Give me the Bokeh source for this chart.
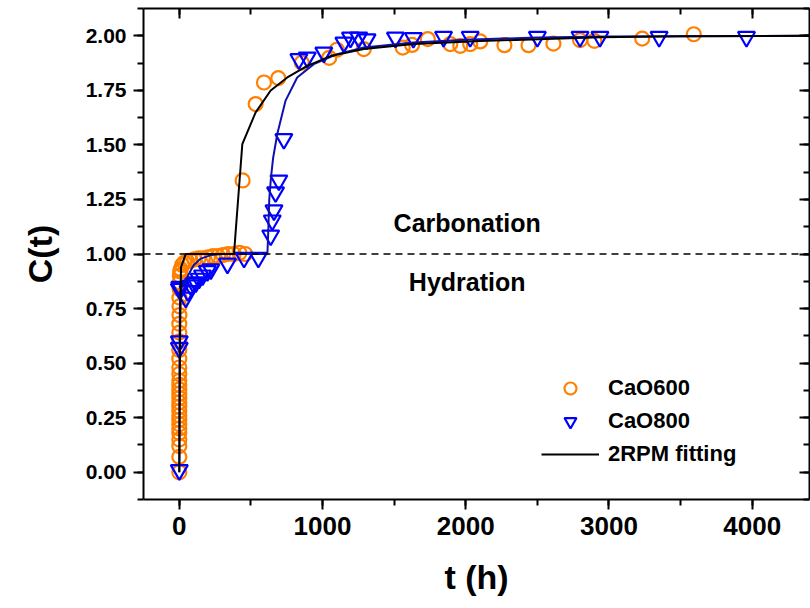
from bokeh.plotting import figure
from bokeh.models import (LinearAxis, Range1d, Span, Label, Legend, LegendItem,
                          NumeralTickFormatter, SingleIntervalTicker,
                          CustomJSTickFormatter)
from bokeh.embed import file_html
from bokeh.resources import INLINE

# ---------------- data ----------------
# CaO600 measured points (orange circles)
t600 = [0, 0, 0, 0, 0, 0, 0, 0, 0, 0, 0, 0, 0, 0, 0, 0, 0, 0, 0, 0, 0, 0, 0, 0,
        1, 1, 1, 2, 3, 4, 6, 10,
        20, 35, 55, 80, 105, 135, 165, 200, 235, 270, 305, 340, 380, 420, 460,
        442, 533, 591, 691, 855, 1047, 1100, 1288, 1560, 1625, 1735,
        1892, 1962, 2031, 2101, 2270, 2438, 2612, 2798, 2898, 3232, 3592]
c600 = [0.00, 0.07, 0.12, 0.15, 0.18, 0.20, 0.22, 0.24, 0.26, 0.28, 0.30, 0.32,
        0.34, 0.36, 0.38, 0.40, 0.42, 0.45, 0.48, 0.52, 0.56, 0.60, 0.64, 0.68,
        0.72, 0.76, 0.80, 0.84, 0.87, 0.90, 0.92, 0.93,
        0.95, 0.96, 0.965, 0.97, 0.975, 0.98, 0.98, 0.985, 0.99, 0.99, 0.995,
        1.0, 1.0, 1.005, 1.0,
        1.337, 1.687, 1.786, 1.806, 1.877, 1.899, 1.936, 1.939, 1.946, 1.958, 1.985,
        1.962, 1.954, 1.962, 1.974, 1.957, 1.957, 1.964, 1.980, 1.977, 1.987, 2.007]

# CaO800 measured points (blue triangles)
t800 = [0, 0, 0, 0, 3, 8, 45, 60, 80, 100, 115, 138, 162, 196, 220, 336, 452, 552,
        638, 649, 661, 672, 695, 730,
        835, 893, 1009, 1149, 1195, 1253, 1311, 1509, 1634, 1845, 2031, 2500,
        2798, 2937, 3350, 3960]
c800 = [0.01, 0.57, 0.60, 0.84, 0.85, 0.84, 0.80, 0.83, 0.856, 0.865, 0.87, 0.887,
        0.902, 0.922, 0.93, 0.956, 0.983, 0.983,
        1.085, 1.154, 1.20, 1.283, 1.337, 1.527,
        1.893, 1.90, 1.923, 1.969, 1.992, 1.992, 1.984, 1.992, 1.99, 1.995, 1.995,
        1.995, 1.995, 1.995, 1.995, 1.995]

# 2RPM fitting curves
t_fit600 = [0, 5, 12, 45, 382, 394, 410, 440, 533, 638, 754, 893, 1056, 1288, 1636,
            2101, 2937, 3500, 4400]
c_fit600 = [0, 0.6, 0.94, 1.0, 1.0, 1.107, 1.245, 1.504, 1.649, 1.749, 1.809, 1.862,
            1.907, 1.939, 1.962, 1.976, 1.993, 1.998, 2.0]

t_fit800 = [0, 2, 5, 15, 30, 60, 100, 150, 220, 300, 615, 618, 622, 628, 640, 655,
            684, 742, 823, 939, 1102, 1288, 1636, 2000, 2500, 3000, 4400]
c_fit800 = [0, 0.6, 0.82, 0.845, 0.86, 0.9, 0.948, 0.979, 0.995, 1.0, 1.0, 1.05, 1.12,
            1.25, 1.35, 1.44, 1.55, 1.703, 1.809, 1.87, 1.916, 1.946, 1.969, 1.982,
            1.992, 1.997, 2.0]

boundary = 1.0
labels_names = ["CaO600", "CaO800", "2RPM fitting"]

FONT = "Liberation Sans"
ORANGE = "#FF8000"
BLUE = "#0000FF"
DBLUE = "#1010B0"

p = figure(width=810, height=608, x_range=Range1d(-250, 4400),
           y_range=Range1d(-0.125, 2.125), output_backend="svg",
           toolbar_location=None, min_border_left=143, min_border_right=1,
           min_border_top=8, min_border_bottom=109)
p.xgrid.visible = False
p.ygrid.visible = False
p.outline_line_color = None
p.background_fill_color = "white"
p.border_fill_color = "white"

xt = SingleIntervalTicker(interval=1000, num_minor_ticks=2)
yt = SingleIntervalTicker(interval=0.25, num_minor_ticks=2)

xa = p.xaxis[0]
xa.ticker = xt
xa.axis_label = "t (h)"
ya = p.yaxis[0]
ya.ticker = yt
ya.formatter = NumeralTickFormatter(format="0.00")
ya.axis_label = "C(t)"

for ax in (xa, ya):
    ax.axis_line_width = 2
    ax.major_tick_line_width = 2
    ax.minor_tick_line_width = 2
    ax.major_tick_out = 10
    ax.major_tick_in = 0
    ax.minor_tick_out = 6
    ax.minor_tick_in = 0
    ax.major_label_text_font = FONT
    ax.major_label_text_font_style = "bold"
    ax.axis_label_text_font = FONT
    ax.axis_label_text_font_style = "bold"
    ax.axis_label_text_font_size = "34px"
    ax.axis_label_text_color = "black"
    ax.major_label_text_color = "black"

xa.major_label_text_font_size = "26px"
xa.major_label_standoff = 7
xa.axis_label_standoff = 20
ya.major_label_text_font_size = "21px"
ya.major_label_standoff = 7
ya.axis_label_standoff = 24

blank = CustomJSTickFormatter(code="return ''")
top = LinearAxis(ticker=SingleIntervalTicker(interval=1000, num_minor_ticks=2),
                 formatter=blank)
right = LinearAxis(ticker=SingleIntervalTicker(interval=0.25, num_minor_ticks=2),
                   formatter=blank)
for ax in (top, right):
    ax.axis_line_width = 2
    ax.major_tick_line_width = 2
    ax.minor_tick_line_width = 2
    ax.major_tick_in = 10
    ax.major_tick_out = 0
    ax.minor_tick_in = 6
    ax.minor_tick_out = 0
    ax.major_label_text_font_size = "1px"
    ax.major_label_standoff = 0
p.add_layout(top, "above")
p.add_layout(right, "right")

p.add_layout(Span(location=boundary, dimension="width", line_color="black",
                  line_width=1.3, line_dash="7 5"))

r600 = p.scatter(t600, c600, marker="circle", size=14, fill_color=None,
                 line_color=ORANGE, line_width=2.2)
r800 = p.scatter(t800, c800, marker="inverted_triangle", size=17, fill_color=None,
                 line_color=BLUE, line_width=2.2)
rb = p.line(t_fit800, c_fit800, line_color=DBLUE, line_width=2)
rk = p.line(t_fit600, c_fit600, line_color="black", line_width=2)

for txt, yy in (("Carbonation", 1.14), ("Hydration", 0.87)):
    p.add_layout(Label(x=2010, y=yy, text=txt, text_align="center",
                       text_baseline="middle", text_font=FONT,
                       text_font_style="bold", text_font_size="25px",
                       text_color="black"))

legend = Legend(items=[LegendItem(label=labels_names[0], renderers=[r600]),
                       LegendItem(label=labels_names[1], renderers=[r800]),
                       LegendItem(label=labels_names[2], renderers=[rk])],
                location=(398, 30), padding=0, margin=0, spacing=3,
                glyph_width=58, glyph_height=30, label_standoff=9,
                label_text_font=FONT, label_text_font_style="bold",
                label_text_font_size="22px", label_text_color="black",
                border_line_alpha=0, background_fill_alpha=0)
p.add_layout(legend)

open("out.html", "w").write(file_html(p, INLINE))
